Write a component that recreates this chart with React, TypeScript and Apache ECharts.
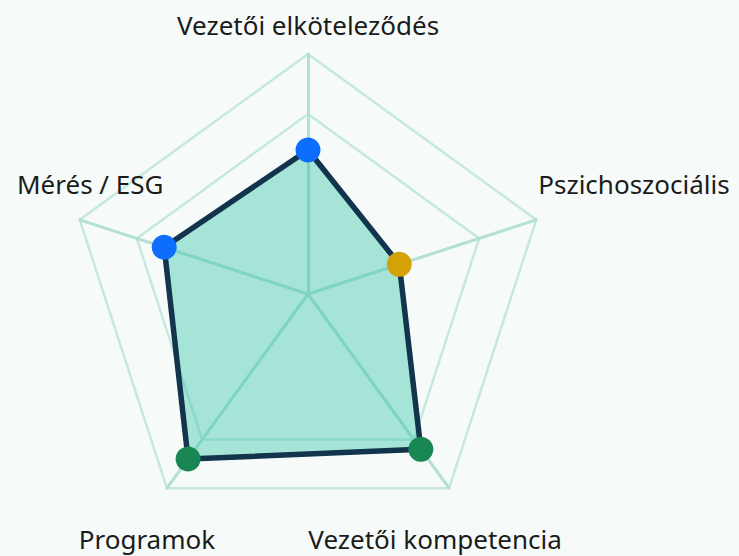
import { useEffect, useRef } from 'react';
import * as echarts from 'echarts';

// Indicators listed in ECharts radar order (top, then counter-clockwise)
const indicatorNames = ['Vezetői elköteleződés', 'Mérés / ESG', 'Programok', 'Vezetői kompetencia', 'Pszichoszociális'];
const scores = [60, 63, 85, 80, 40];
const maxScore = 100;
const ringTicks = [0, 25, 50, 75, 100];

const COLOR_HIGH = '#198754';
const COLOR_MID = '#0d6efd';
const COLOR_LOW = '#d4a106';
const pointColor = (v: number) => (v >= 75 ? COLOR_HIGH : v >= 50 ? COLOR_MID : COLOR_LOW);

// per-label placement tweaks (layout only)
const nameStyles: Record<string, any> = {
  'Vezetői elköteleződés': { align: 'center', verticalAlign: 'bottom', padding: [0, 0, 13, 0] },
  'Mérés / ESG': { align: 'center', verticalAlign: 'bottom', padding: [0, 0, 20, 21] },
  'Programok': { align: 'center', verticalAlign: 'top', padding: [35, 40, 0, 0] },
  'Vezetői kompetencia': { align: 'center', verticalAlign: 'top', padding: [35, 28, 0, 0] },
  'Pszichoszociális': { align: 'left', verticalAlign: 'bottom', padding: [0, 0, 20, 2] },
};

export default function App() {
  const ref = useRef<HTMLDivElement>(null);
  useEffect(() => {
    if (!ref.current) return;
    document.body.style.margin = '0';
    document.body.style.background = '#f6fbfa';
    const chart = echarts.init(ref.current, undefined, { renderer: 'svg' });
    const center = [308, 294];
    const radius = 240;
    const ringColor = '#c6e8df';
    chart.setOption({
      animation: false,
      backgroundColor: '#f6fbfa',
      radar: {
        center,
        radius,
        startAngle: 90,
        shape: 'polygon',
        splitNumber: ringTicks.length - 1,
        nameGap: 0,
        axisName: {
          color: '#1b1b1b',
          fontFamily: 'Noto Sans',
          fontSize: 26,
          lineHeight: 32,
        },
        axisLine: { show: true, lineStyle: { color: '#b3e0d5', width: 3 } },
        splitLine: {
          show: true,
          lineStyle: {
            color: ['rgba(0,0,0,0)', 'rgba(0,0,0,0)', 'rgba(0,0,0,0)', ringColor, ringColor],
            width: 2.5,
          },
        },
        splitArea: { show: false },
        axisTick: { show: false },
        axisLabel: { show: false },
        indicator: indicatorNames.map((name) => ({
          name,
          min: 0,
          max: maxScore,
          nameTextStyle: nameStyles[name],
        })),
      },
      polar: { center, radius },
      angleAxis: {
        type: 'category',
        data: indicatorNames,
        startAngle: 90 - 180 / indicatorNames.length,
        clockwise: false,
        boundaryGap: true,
        show: false,
        axisLine: { show: false },
        splitLine: { show: false },
        axisLabel: { show: false },
        axisTick: { show: false },
      },
      radiusAxis: {
        min: 0,
        max: maxScore,
        show: false,
        axisLine: { show: false },
        splitLine: { show: false },
        axisLabel: { show: false },
        axisTick: { show: false },
      },
      series: [
        {
          type: 'radar',
          symbol: 'none',
          lineStyle: { width: 0, opacity: 0 },
          areaStyle: { color: 'rgba(46,196,160,0.4)', opacity: 1 },
          data: [{ value: scores, name: 'Pontszám' }],
        },
        {
          type: 'radar',
          symbol: 'none',
          lineStyle: { color: '#12344d', width: 5.5, opacity: 1 },
          data: [{ value: scores, name: 'Pontszám' }],
        },
        {
          type: 'scatter',
          coordinateSystem: 'polar',
          symbolSize: 25,
          data: scores.map((v, i) => ({
            value: [v, indicatorNames[i]],
            itemStyle: { color: pointColor(v), opacity: 1 },
          })),
        },
      ],
    });
    return () => chart.dispose();
  }, []);
  return <div ref={ref} style={{ position: 'fixed', left: 0, top: 0, width: 739, height: 556 }} />;
}
